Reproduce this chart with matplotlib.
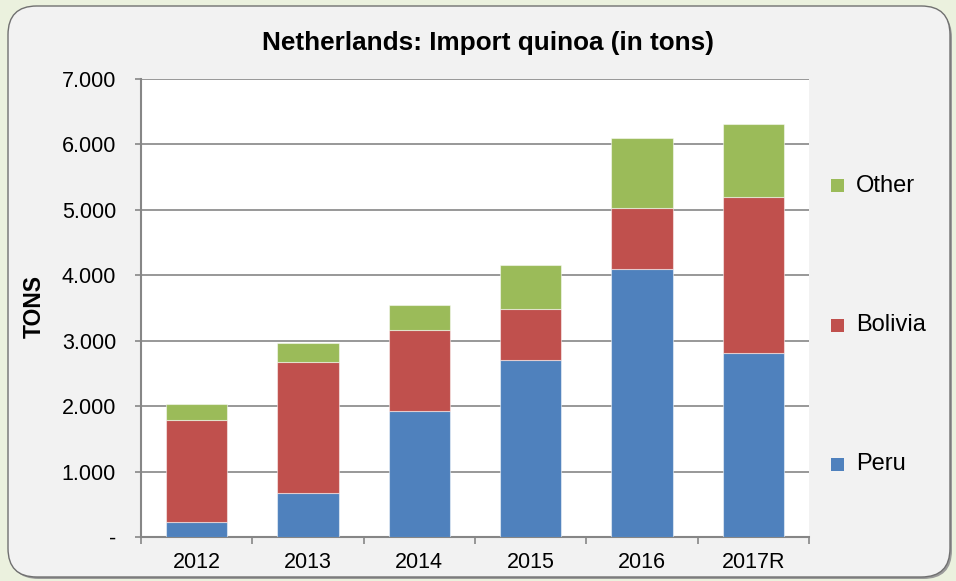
import matplotlib
matplotlib.use("Agg")
import matplotlib.pyplot as plt
from matplotlib.patches import FancyBboxPatch, Rectangle
import numpy as np

plt.rcParams['font.family'] = ['Liberation Sans', 'DejaVu Sans']

years = ["2012", "2013", "2014", "2015", "2016", "2017R"]
peru = [230, 670, 1925, 2705, 4090, 2810]
bolivia = [1560, 2000, 1240, 780, 940, 2390]
other = [250, 290, 380, 675, 1070, 1110]
series_names = ["Peru", "Bolivia", "Other"]
colors = ["#4F81BD", "#C0504D", "#9BBB59"]
yticks = [0, 1000, 2000, 3000, 4000, 5000, 6000, 7000]
ytick_labels = ["-", "1.000", "2.000", "3.000", "4.000", "5.000", "6.000", "7.000"]
title = "Netherlands: Import quinoa (in tons)"
ylabel = "TONS"

W, H = 956, 581
fig = plt.figure(figsize=(W / 100, H / 100), dpi=100)
fig.patch.set_facecolor("#EBF1DE")

# panel shadow and panel
shadow = FancyBboxPatch((10 / W, 2 / H), 942 / W, 570 / H,
                        boxstyle="round,pad=0,rounding_size=0.03",
                        transform=fig.transFigure, facecolor="#9a9a9a",
                        edgecolor="none", zorder=0, mutation_aspect=W / H)
fig.patches.append(shadow)
panel = FancyBboxPatch((8 / W, 4 / H), 942 / W, 571 / H,
                       boxstyle="round,pad=0,rounding_size=0.03",
                       transform=fig.transFigure, facecolor="#F2F2F2",
                       edgecolor="#707070", linewidth=1.0, zorder=0.5,
                       mutation_aspect=W / H)
fig.patches.append(panel)

ax = fig.add_axes([141 / W, 44 / H, 668 / W, 458 / H])
ax.set_facecolor("white")
ax.set_zorder(2)

x = np.arange(len(years))
bottom = np.zeros(len(years))
for vals, c in zip([peru, bolivia, other], colors):
    ax.bar(x, vals, width=0.55, bottom=bottom, color=c,
           edgecolor=(1, 1, 1, 0.5), linewidth=0.8, zorder=3)
    bottom += np.array(vals)

ax.set_xlim(-0.5, len(years) - 0.5)
ax.set_ylim(0, 7000)
ax.set_yticks(yticks)
ax.set_yticklabels(ytick_labels, fontsize=15.5)
ax.yaxis.grid(True, color="#868686", linewidth=1.2, zorder=1)
ax.set_axisbelow(True)

ax.set_xticks(x)
ax.set_xticklabels(years, fontsize=15.5)
ax.set_xticks(np.arange(len(years) + 1) - 0.5, minor=True)
ax.tick_params(axis="x", which="major", length=0, pad=11)
ax.tick_params(axis="x", which="minor", length=5, color="#868686", width=1.2)
ax.tick_params(axis="y", length=4.5, color="#868686", width=1.2, pad=13.5)

for s in ["top", "right"]:
    ax.spines[s].set_visible(False)
for s in ["left", "bottom"]:
    ax.spines[s].set_color("#868686")
    ax.spines[s].set_linewidth(1.5)

fig.text(487.5 / W, 1 - 43 / H, title, fontsize=18.8, fontweight="bold",
         ha="center", va="center")
fig.text(34 / W, 1 - 307 / H, ylabel, rotation=90, fontsize=16.5,
         fontweight="bold", ha="center", va="center")

# legend (top to bottom: Other, Bolivia, Peru)
leg_y = [464, 325, 185.5]
for name, c, yy in zip(series_names, colors, leg_y):
    fig.patches.append(Rectangle((831 / W, 1 - (yy + 6.5) / H), 13 / W, 13 / H,
                                 transform=fig.transFigure, facecolor=c,
                                 edgecolor="none", zorder=3))
    fig.text(856 / W, 1 - yy / H, name, fontsize=17, ha="left", va="center")

fig.savefig("out.png", dpi=100, facecolor=fig.get_facecolor())
